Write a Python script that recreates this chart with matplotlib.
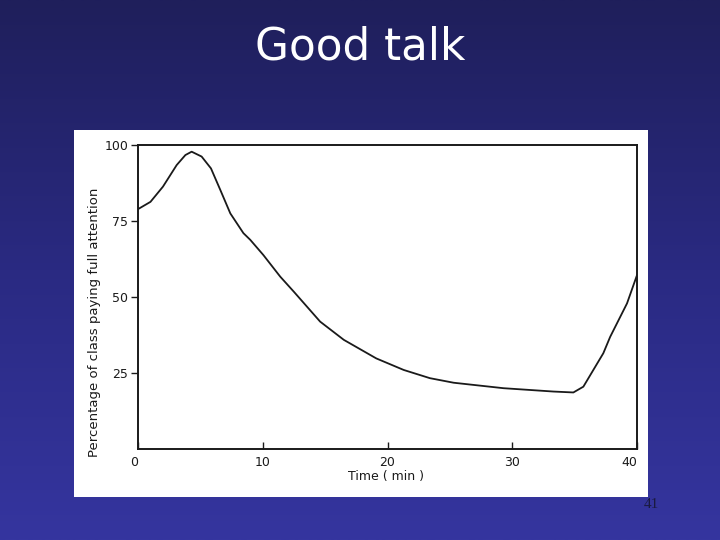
import numpy as np
import matplotlib
matplotlib.use("Agg")
import matplotlib.pyplot as plt
from matplotlib.patches import Rectangle
from matplotlib.colors import LinearSegmentedColormap

# Data
time_min = [0, 1, 2, 3.1, 3.8, 4.3, 5.1, 5.85, 6.6, 7.4, 8.45, 9.0, 10.05, 11.4,
            12.5, 14.6, 16.5, 19.1, 21.3, 23.4, 25.3, 29.3, 33.3, 34.9, 35.7,
            37.3, 37.85, 39.2, 40]
attention = [78.9, 81.3, 86.3, 93.4, 96.7, 97.8, 96.2, 92.3, 85.2, 77.5, 71, 68.8,
             63.8, 56.7, 51.7, 41.9, 35.9, 29.8, 26, 23.3, 21.8, 20, 18.9, 18.6,
             20.5, 31.5, 36.9, 47.9, 57.2]
x_ticks = [0, 10, 20, 30, 40]
y_ticks = [25, 50, 75, 100]

fig = plt.figure(figsize=(7.2, 5.4), dpi=100)

# Slide background gradient
bg = fig.add_axes([0, 0, 1, 1], zorder=-10)
cmap = LinearSegmentedColormap.from_list("slide", ["#1f1f5b", "#2a2a82", "#35359f"])
grad = np.linspace(0, 1, 256).reshape(-1, 1)
bg.imshow(grad, aspect="auto", cmap=cmap, extent=[0, 1, 0, 1], origin="upper")
bg.axis("off")

# White panel
fig.patches.append(Rectangle((74 / 720, 1 - 497 / 540), (648 - 74) / 720, (497 - 130) / 540,
                             transform=fig.transFigure, facecolor="white",
                             edgecolor="none", zorder=-5))

fig.text(0.5, 1 - 47 / 540, "Good talk", ha="center", va="center",
         color="white", fontsize=31.5, family="DejaVu Sans")
fig.text(651 / 720, 1 - 505 / 540, "41", ha="center", va="center",
         color="#1a1a40", fontsize=11, family="Liberation Serif")

ax = fig.add_axes([138 / 720, 1 - 449 / 540, (637 - 138) / 720, (449 - 145) / 540])
ax.set_facecolor("white")
ax.plot(time_min, attention, color="#1a1a1a", lw=1.3, solid_joinstyle="round")
ax.set_xlim(0, 40)
ax.set_ylim(0, 100)
for s in ax.spines.values():
    s.set_linewidth(1.4)
    s.set_color("#1a1a1a")
ax.set_xticks(x_ticks)
ax.set_yticks(y_ticks)
ax.tick_params(axis="x", direction="in", length=5, width=1, pad=5,
               labelsize=9, colors="#1a1a1a")
ax.tick_params(axis="y", direction="out", length=5, width=1, pad=2,
               labelsize=9, colors="#1a1a1a")
xl = ax.get_xticklabels()
xl[0].set_ha("right")
xl[-1].set_ha("right")
ax.set_xlabel("Time ( min )", fontsize=9, color="#1a1a1a")
ax.set_ylabel("Percentage of class paying full attention", fontsize=9.5,
              color="#1a1a1a")
ax.yaxis.set_label_coords(-0.074, 0.418)
ax.xaxis.set_label_coords(0.497, -0.068)

fig.savefig("out.png", dpi=100)
